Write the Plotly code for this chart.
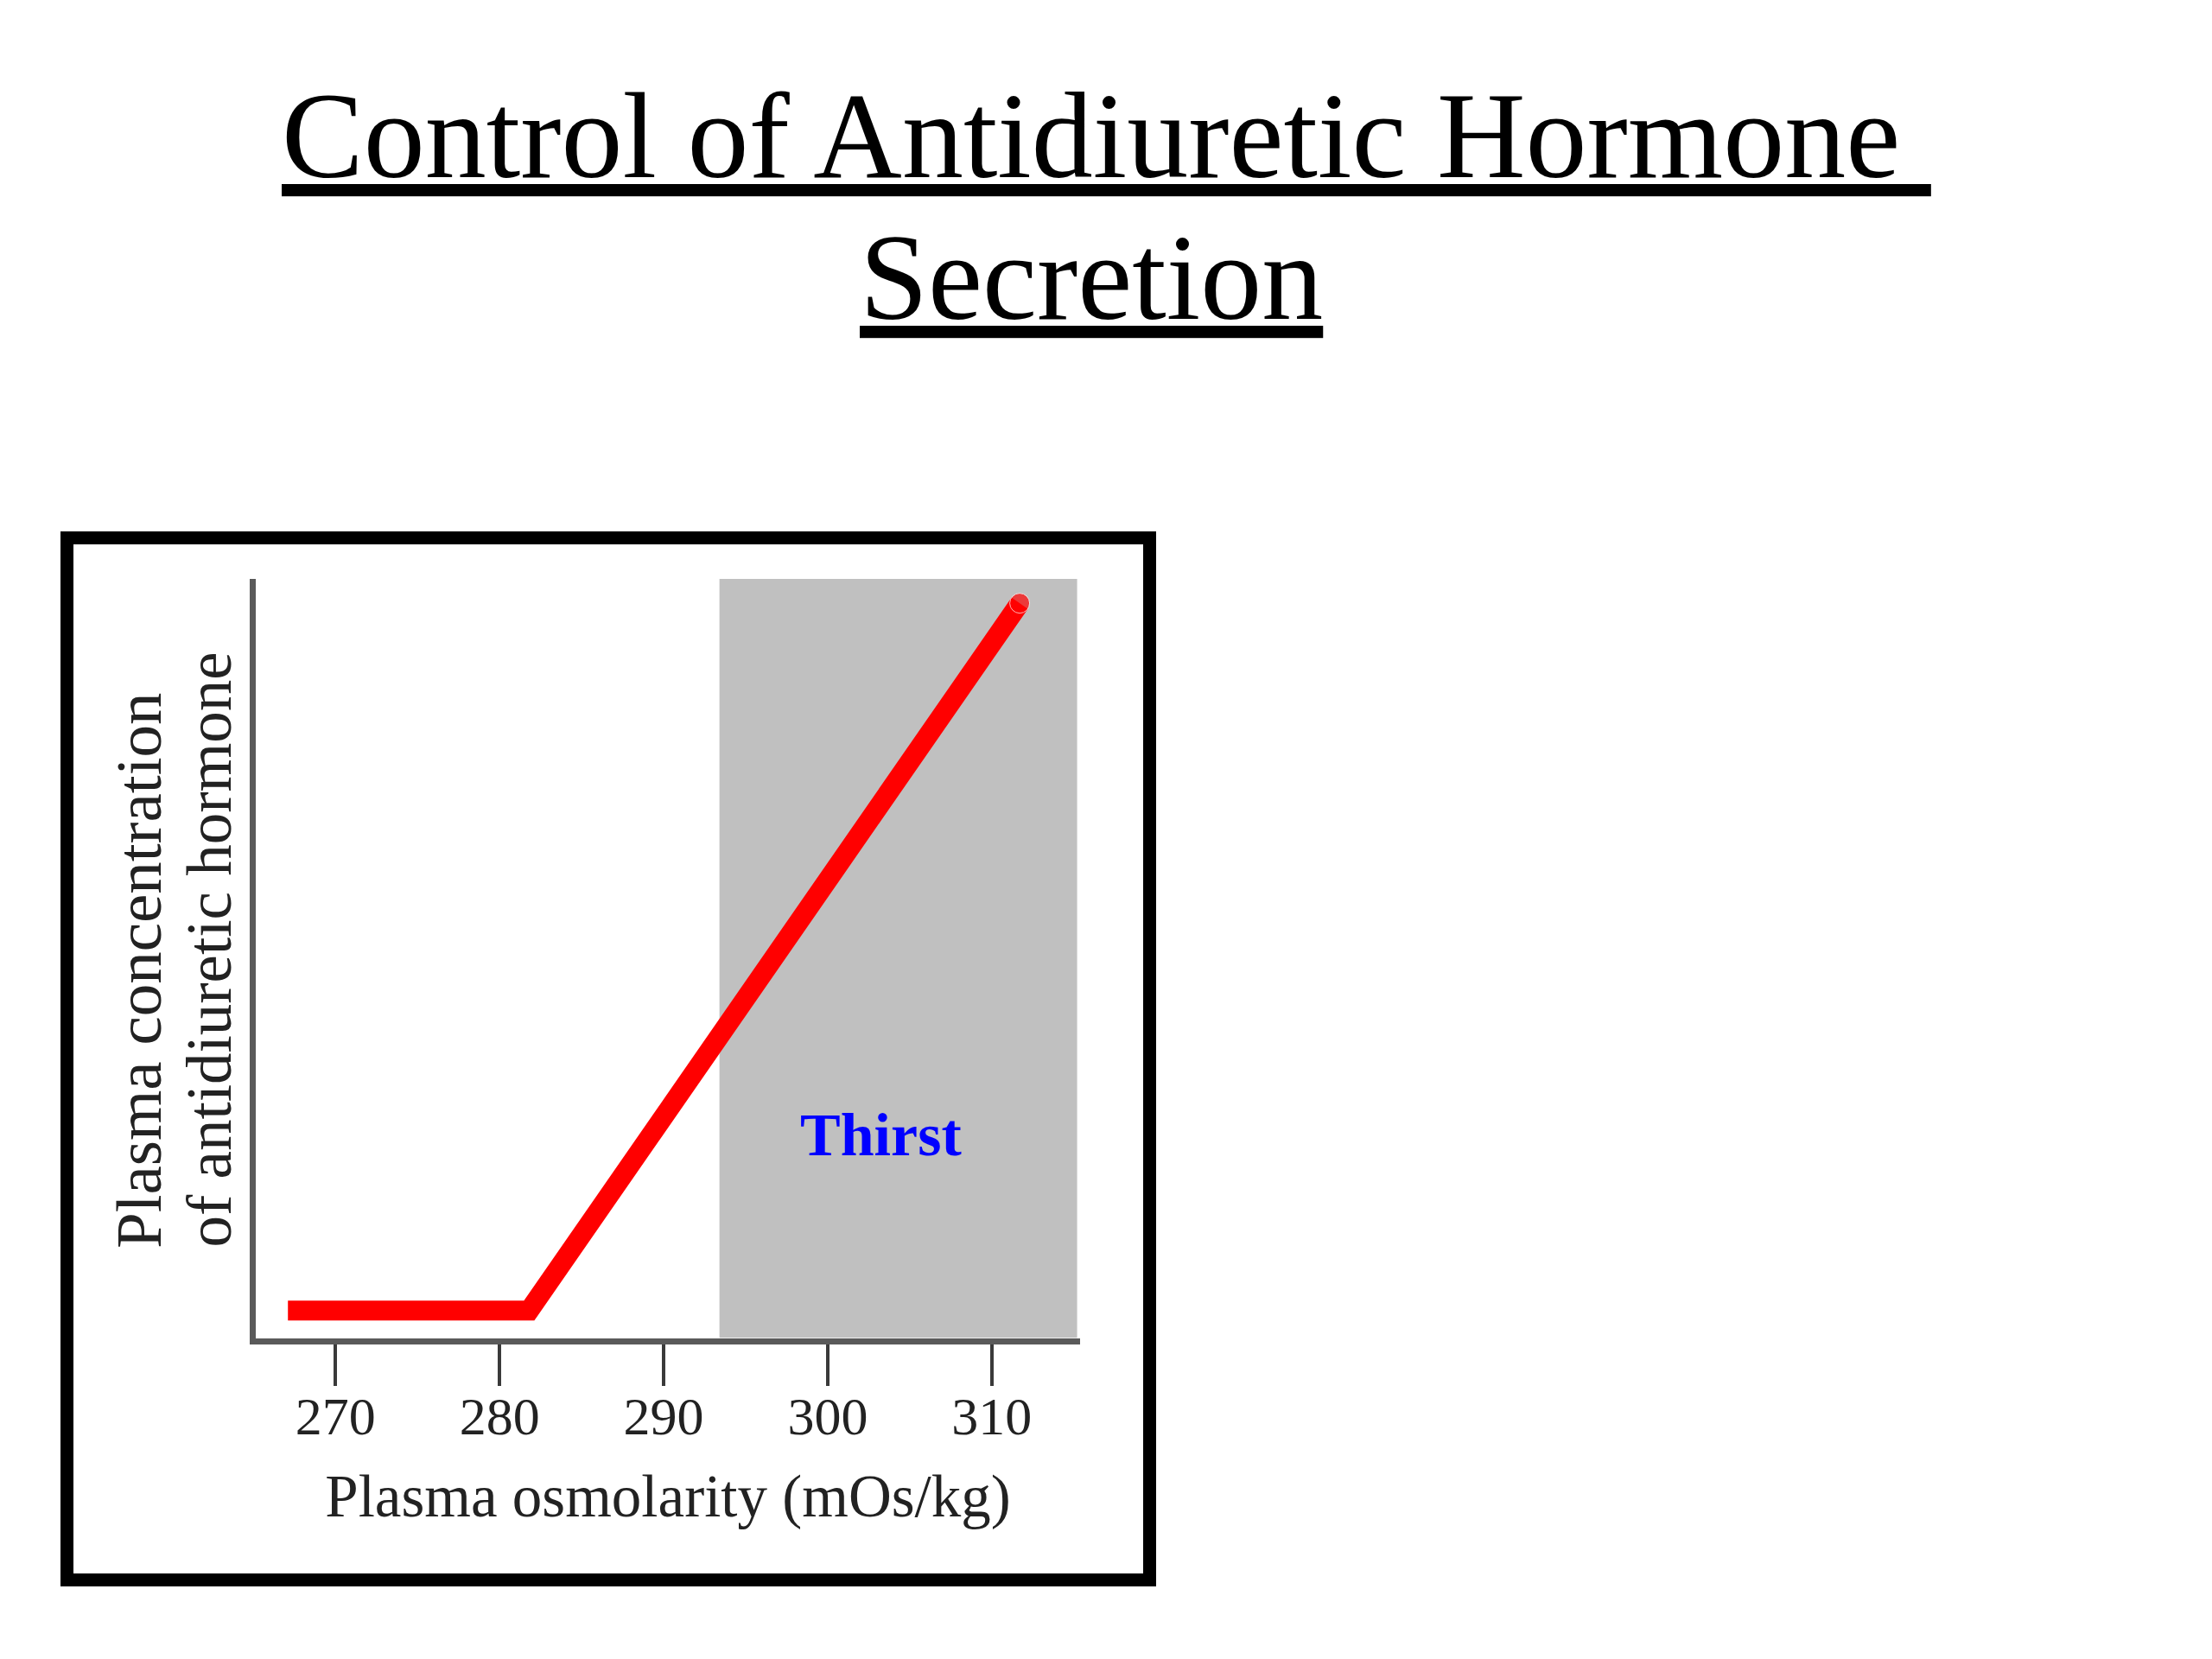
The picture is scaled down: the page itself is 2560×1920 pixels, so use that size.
import plotly.graph_objects as go

# ---- data ----
osmolarity = [267.1, 281.8, 311.7]      # mOs/kg
adh_level = [3.6, 3.6, 96.8]            # relative plasma ADH (0-100 scale)
thirst_start = 293.4                    # thirst zone begins here
thirst_end = 315.2
x_ticks = [270, 280, 290, 300, 310]
x_tick_labels = ["270", "280", "290", "300", "310"]

W, H = 2560, 1920
SERIF = "Liberation Serif, Times New Roman, serif"


def px(x):
    return x / W


def py(y):
    return 1 - y / H


fig = go.Figure()

fig.add_trace(go.Scatter(
    x=osmolarity, y=adh_level, mode="lines+markers",
    line=dict(color="#FF0000", width=23),
    marker=dict(color="#FF0000", size=[0, 0, 23]),
    hoverinfo="skip", showlegend=False,
))

# thirst zone
fig.add_shape(type="rect", xref="x", yref="y",
              x0=thirst_start, x1=thirst_end, y0=0, y1=100,
              fillcolor="#C0C0C0", line=dict(width=0), layer="below")

# outer black frame
fig.add_shape(type="rect", xref="paper", yref="paper",
              x0=px(77.5), x1=px(1330.5), y0=py(1828.5), y1=py(622.5),
              line=dict(color="black", width=15), fillcolor="rgba(0,0,0,0)")

annotations = [
    dict(text="<u>Control of Antidiuretic Hormone\u00a0</u>",
         x=px(1280), y=py(157), xref="paper", yref="paper",
         xanchor="center", yanchor="middle", showarrow=False,
         font=dict(family=SERIF, size=142, color="black")),
    dict(text="<u>Secretion</u>",
         x=px(1263), y=py(321), xref="paper", yref="paper",
         xanchor="center", yanchor="middle", showarrow=False,
         font=dict(family=SERIF, size=142, color="black")),
    dict(text="Plasma concentration",
         x=px(160), y=py(1447), xref="paper", yref="paper",
         xanchor="center", yanchor="bottom", textangle=-90, showarrow=False,
         font=dict(family=SERIF, size=75, color="#222222")),
    dict(text="of antidiuretic hormone",
         x=px(242), y=py(1446), xref="paper", yref="paper",
         xanchor="center", yanchor="bottom", textangle=-90, showarrow=False,
         font=dict(family=SERIF, size=73, color="#222222")),
    dict(text="<b>Thirst</b>", x=303.25, y=26.7, xref="x", yref="y",
         xanchor="center", yanchor="middle", showarrow=False,
         font=dict(family=SERIF, size=70, color="#0000FF")),
]

fig.update_layout(
    width=W, height=H,
    margin=dict(l=0, r=0, t=0, b=0),
    paper_bgcolor="white", plot_bgcolor="white",
    annotations=annotations,
    xaxis=dict(
        domain=[px(296), px(1250)], range=[265.14, 315.38],
        showgrid=False, zeroline=False,
        showline=True, linecolor="#5a5a5a", linewidth=7,
        ticks="outside", ticklen=48, tickwidth=4, tickcolor="#3a3a3a",
        tickvals=x_ticks, ticktext=x_tick_labels,
        ticklabelstandoff=-18,
        tickfont=dict(family=SERIF, size=62, color="#222222"),
        title=dict(text="Plasma osmolarity (mOs/kg)", standoff=37,
                   font=dict(family=SERIF, size=69, color="#222222")),
        fixedrange=True,
    ),
    yaxis=dict(
        domain=[py(1548.5), py(670)], range=[0, 100],
        showgrid=False, zeroline=False,
        showline=True, linecolor="#5a5a5a", linewidth=7,
        ticks="", showticklabels=False, fixedrange=True,
    ),
)

fig.write_html("out.html", config={"displayModeBar": False},
               post_script="document.body.style.margin='0';")
